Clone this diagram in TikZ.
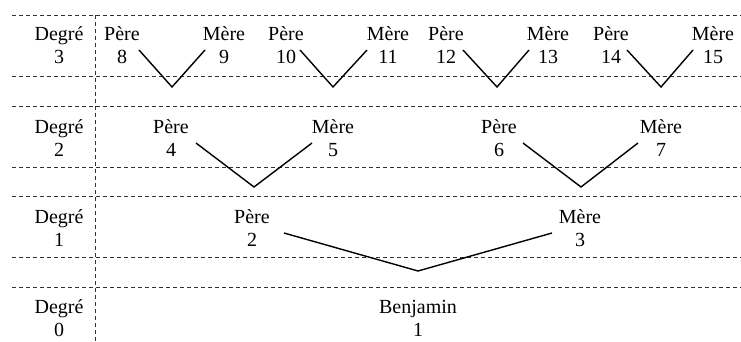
\documentclass[tikz,border=0pt]{standalone}
\usepackage{fontspec}
\setmainfont{Liberation Serif}
\begin{document}
\begin{tikzpicture}[x=1pt,y=-1pt,
  gridline/.style={dash pattern=on 4pt off 3pt, line width=0.7pt, black!80},
  person/.style={align=center, font=\fontsize{20}{23}\selectfont, inner sep=0pt},
  link/.style={line width=1.4pt, line join=miter}]
\useasboundingbox (0,0) rectangle (741,342);
% grid
\coordinate (h1l) at (12,15);  \coordinate (h1r) at (741,15);
\coordinate (h2l) at (12,76);  \coordinate (h2r) at (741,76);
\coordinate (h3l) at (12,106); \coordinate (h3r) at (741,106);
\coordinate (h4l) at (12,167); \coordinate (h4r) at (741,167);
\coordinate (h5l) at (12,196); \coordinate (h5r) at (741,196);
\coordinate (h6l) at (12,257); \coordinate (h6r) at (741,257);
\coordinate (h7l) at (12,287); \coordinate (h7r) at (741,287);
\coordinate (vt) at (95,15); \coordinate (vb) at (95,342);
\foreach \i in {1,...,7} \draw[gridline] (h\i l) -- (h\i r);
\draw[gridline] (vt) -- (vb);
% degree labels
\node[person] (d3) at (59,45)  {Degré\\3};
\node[person] (d2) at (59,138) {Degré\\2};
\node[person] (d1) at (59,228) {Degré\\1};
\node[person] (d0) at (59,318) {Degré\\0};
% persons
\node[person] (p8)  at (122,45) {Père\\8};
\node[person] (p9)  at (224,45) {Mère\\9};
\node[person] (p10) at (286,45) {Père\\10};
\node[person] (p11) at (388,45) {Mère\\11};
\node[person] (p12) at (446,45) {Père\\12};
\node[person] (p13) at (548,45) {Mère\\13};
\node[person] (p14) at (611,45) {Père\\14};
\node[person] (p15) at (713,45) {Mère\\15};
\node[person] (p4) at (171,138) {Père\\4};
\node[person] (p5) at (333,138) {Mère\\5};
\node[person] (p6) at (499,138) {Père\\6};
\node[person] (p7) at (661,138) {Mère\\7};
\node[person] (p2) at (252,228) {Père\\2};
\node[person] (p3) at (580,228) {Mère\\3};
\node[person] (p1) at (418,318) {Benjamin\\1};
% connector points
\coordinate (s8) at (139,50);  \coordinate (j4) at (172,87);  \coordinate (s9) at (205,50);
\coordinate (s10) at (300,50); \coordinate (j5) at (333,87);  \coordinate (s11) at (367,50);
\coordinate (s12) at (463,50); \coordinate (j6) at (497,87);  \coordinate (s13) at (529,50);
\coordinate (s14) at (627,50); \coordinate (j7) at (661,87);  \coordinate (s15) at (693,50);
\coordinate (s4) at (196,143); \coordinate (j2) at (254,187); \coordinate (s5) at (312,143);
\coordinate (s6) at (523,143); \coordinate (j3) at (581,187); \coordinate (s7) at (638,143);
\coordinate (s2) at (284,233); \coordinate (j1) at (418,271); \coordinate (s3) at (552,233);
\draw[link] (s8) -- (j4) -- (s9);
\draw[link] (s10) -- (j5) -- (s11);
\draw[link] (s12) -- (j6) -- (s13);
\draw[link] (s14) -- (j7) -- (s15);
\draw[link] (s4) -- (j2) -- (s5);
\draw[link] (s6) -- (j3) -- (s7);
\draw[link] (s2) -- (j1) -- (s3);
\end{tikzpicture}
\end{document}
